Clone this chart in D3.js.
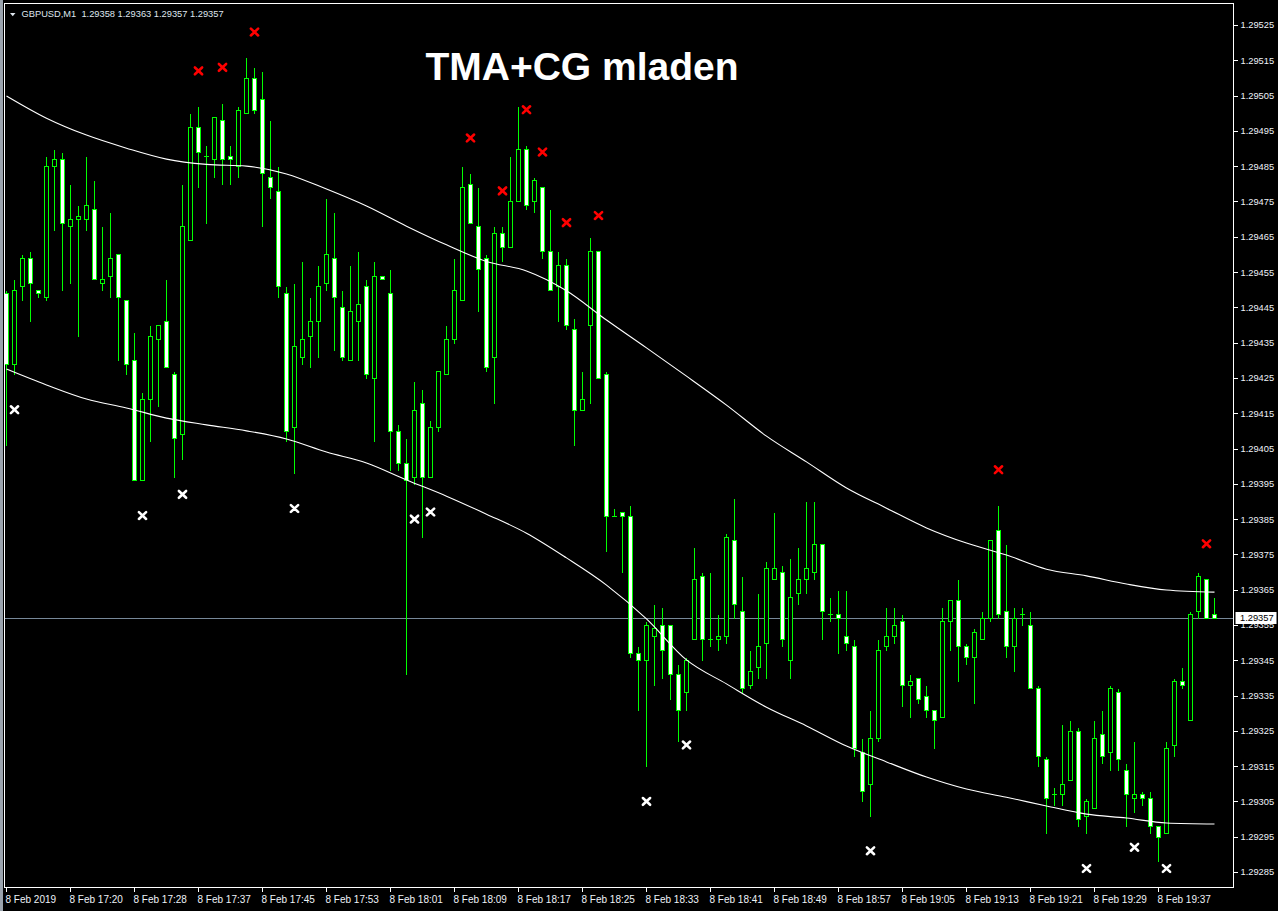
<!DOCTYPE html>
<html><head><meta charset="utf-8">
<script src="https://cdn.jsdelivr.net/npm/d3@7/dist/d3.min.js"></script>
<style>
html,body{margin:0;padding:0;background:#000;overflow:hidden;}
svg{display:block;}
</style></head><body>
<svg id="chart" width="1278" height="911"></svg>
<script>
const symbol = "GBPUSD,M1";
const lastQuote = ["1.29358", "1.29363", "1.29357", "1.29357"];
const title = "TMA+CG mladen";
const currentPrice = 1.29357;

const timeLabelIndex = [0, 8, 16, 24, 32, 40, 48, 56, 64, 72, 80, 88, 96, 104, 112, 120, 128, 136, 144];
const timeLabels = ["8 Feb 2019", "8 Feb 17:20", "8 Feb 17:28", "8 Feb 17:37", "8 Feb 17:45", "8 Feb 17:53",
  "8 Feb 18:01", "8 Feb 18:09", "8 Feb 18:17", "8 Feb 18:25", "8 Feb 18:33", "8 Feb 18:41", "8 Feb 18:49",
  "8 Feb 18:57", "8 Feb 19:05", "8 Feb 19:13", "8 Feb 19:21", "8 Feb 19:29", "8 Feb 19:37"];

const priceTicks = [1.29285, 1.29295, 1.29305, 1.29315, 1.29325, 1.29335, 1.29345, 1.29355, 1.29365, 1.29375,
  1.29385, 1.29395, 1.29405, 1.29415, 1.29425, 1.29435, 1.29445, 1.29455, 1.29465, 1.29475, 1.29485,
  1.29495, 1.29505, 1.29515, 1.29525];

const open = [
1.29449,1.29429,1.29451,1.29459,1.29450,1.29448,1.29485,1.29487,1.29468,1.29470,
1.29470,1.29473,1.29452,1.29454,1.29460,1.29447,1.29430,1.29396,1.29419,1.29436,
1.29441,1.29426,1.29409,1.29464,1.29496,1.29488,1.29487,1.29498,1.29488,1.29485,
1.29500,1.29510,1.29504,1.29482,1.29478,1.29449,1.29411,1.29431,1.29437,1.29441,
1.29452,1.29459,1.29445,1.29430,1.29441,1.29451,1.29425,1.29454,1.29449,1.29410,
1.29401,1.29397,1.29418,1.29397,1.29411,1.29426,1.29436,1.29447,1.29480,1.29468,
1.29459,1.29431,1.29466,1.29462,1.29475,1.29490,1.29475,1.29479,1.29461,1.29451,
1.29457,1.29439,1.29416,1.29440,1.29461,1.29426,1.29386,1.29387,1.29386,1.29347,
1.29345,1.29352,1.29355,1.29355,1.29341,1.29336,1.29351,1.29369,1.29351,1.29351,
1.29352,1.29379,1.29359,1.29338,1.29343,1.29350,1.29368,1.29370,1.29345,1.29364,
1.29368,1.29370,1.29378,1.29358,1.29358,1.29352,1.29349,1.29319,1.29310,1.29323,
1.29349,1.29352,1.29356,1.29338,1.29340,1.29335,1.29331,1.29329,1.29356,1.29362,
1.29349,1.29346,1.29351,1.29357,1.29382,1.29359,1.29349,1.29358,1.29355,1.29337,
1.29317,1.29307,1.29307,1.29311,1.29325,1.29301,1.29303,1.29324,1.29319,1.29336,
1.29314,1.29306,1.29307,1.29306,1.29298,1.29296,1.29321,1.29339,1.29328,1.29359,
1.29368,1.29358];

const high = [
1.29450,1.29453,1.29460,1.29461,1.29450,1.29488,1.29490,1.29489,1.29480,1.29474,
1.29488,1.29481,1.29468,1.29472,1.29460,1.29447,1.29438,1.29421,1.29440,1.29440,
1.29453,1.29427,1.29480,1.29500,1.29502,1.29491,1.29499,1.29503,1.29491,1.29502,
1.29516,1.29513,1.29512,1.29498,1.29485,1.29451,1.29452,1.29458,1.29448,1.29457,
1.29476,1.29472,1.29450,1.29457,1.29461,1.29453,1.29458,1.29454,1.29456,1.29412,
1.29408,1.29424,1.29422,1.29413,1.29427,1.29440,1.29459,1.29485,1.29483,1.29479,
1.29460,1.29468,1.29468,1.29488,1.29502,1.29491,1.29482,1.29479,1.29473,1.29461,
1.29459,1.29442,1.29427,1.29465,1.29461,1.29427,1.29388,1.29387,1.29389,1.29349,
1.29356,1.29361,1.29360,1.29355,1.29344,1.29346,1.29377,1.29370,1.29370,1.29358,
1.29381,1.29391,1.29369,1.29348,1.29364,1.29373,1.29387,1.29372,1.29374,1.29377,
1.29390,1.29390,1.29378,1.29363,1.29365,1.29365,1.29351,1.29323,1.29331,1.29351,
1.29360,1.29360,1.29358,1.29341,1.29340,1.29338,1.29331,1.29360,1.29362,1.29368,
1.29350,1.29354,1.29359,1.29379,1.29389,1.29378,1.29360,1.29360,1.29359,1.29338,
1.29318,1.29309,1.29327,1.29328,1.29326,1.29306,1.29328,1.29331,1.29338,1.29337,
1.29316,1.29322,1.29308,1.29308,1.29298,1.29322,1.29340,1.29343,1.29359,1.29370,
1.29368,1.29363];

const low = [
1.29406,1.29426,1.29447,1.29441,1.29448,1.29447,1.29467,1.29450,1.29452,1.29437,
1.29467,1.29453,1.29450,1.29448,1.29430,1.29426,1.29396,1.29396,1.29407,1.29417,
1.29428,1.29397,1.29402,1.29464,1.29479,1.29469,1.29482,1.29480,1.29480,1.29482,
1.29500,1.29500,1.29468,1.29476,1.29448,1.29407,1.29398,1.29429,1.29428,1.29431,
1.29450,1.29433,1.29430,1.29430,1.29430,1.29425,1.29407,1.29453,1.29399,1.29399,
1.29341,1.29395,1.29380,1.29397,1.29410,1.29426,1.29435,1.29447,1.29469,1.29444,
1.29427,1.29418,1.29458,1.29462,1.29475,1.29473,1.29472,1.29459,1.29450,1.29441,
1.29439,1.29406,1.29416,1.29418,1.29425,1.29376,1.29386,1.29370,1.29346,1.29331,
1.29315,1.29338,1.29340,1.29334,1.29322,1.29331,1.29351,1.29345,1.29349,1.29348,
1.29350,1.29357,1.29336,1.29337,1.29340,1.29340,1.29368,1.29349,1.29340,1.29361,
1.29364,1.29368,1.29351,1.29356,1.29347,1.29348,1.29318,1.29305,1.29301,1.29322,
1.29348,1.29350,1.29332,1.29329,1.29333,1.29329,1.29320,1.29329,1.29348,1.29339,
1.29344,1.29333,1.29351,1.29356,1.29357,1.29346,1.29342,1.29355,1.29337,1.29315,
1.29296,1.29304,1.29304,1.29311,1.29298,1.29296,1.29303,1.29316,1.29314,1.29314,
1.29298,1.29302,1.29304,1.29296,1.29288,1.29296,1.29318,1.29337,1.29328,1.29357,
1.29357,1.29357];

const close = [
1.29429,1.29450,1.29459,1.29452,1.29449,1.29485,1.29487,1.29469,1.29470,1.29471,
1.29474,1.29453,1.29453,1.29459,1.29448,1.29429,1.29396,1.29419,1.29437,1.29440,
1.29428,1.29408,1.29468,1.29496,1.29489,1.29488,1.29499,1.29487,1.29487,1.29501,
1.29510,1.29501,1.29483,1.29479,1.29451,1.29410,1.29434,1.29436,1.29441,1.29451,
1.29460,1.29448,1.29431,1.29444,1.29446,1.29426,1.29454,1.29453,1.29410,1.29401,
1.29396,1.29416,1.29397,1.29411,1.29427,1.29436,1.29450,1.29479,1.29469,1.29456,
1.29428,1.29466,1.29462,1.29475,1.29490,1.29474,1.29481,1.29461,1.29450,1.29457,
1.29440,1.29416,1.29419,1.29461,1.29425,1.29386,1.29386,1.29386,1.29347,1.29345,
1.29355,1.29354,1.29348,1.29341,1.29331,1.29345,1.29368,1.29351,1.29351,1.29352,
1.29380,1.29361,1.29337,1.29342,1.29349,1.29371,1.29371,1.29351,1.29363,1.29368,
1.29371,1.29378,1.29359,1.29358,1.29357,1.29350,1.29320,1.29308,1.29323,1.29348,
1.29352,1.29355,1.29338,1.29339,1.29334,1.29331,1.29328,1.29356,1.29362,1.29349,
1.29346,1.29353,1.29357,1.29379,1.29358,1.29349,1.29357,1.29358,1.29337,1.29318,
1.29306,1.29307,1.29310,1.29325,1.29300,1.29305,1.29323,1.29318,1.29337,1.29317,
1.29307,1.29307,1.29306,1.29298,1.29295,1.29320,1.29339,1.29338,1.29358,1.29369,
1.29357,1.29357];

// TMA+CG band values read at selected bars
const bandIndex = [0, 5, 10, 15, 20, 25, 30, 35, 40, 45, 50, 55, 60, 65, 70, 75, 80, 85, 90, 95,
  100, 105, 110, 115, 120, 125, 130, 135, 140, 145, 151];
const upperBand = [1.295049, 1.294986, 1.294938, 1.294901, 1.294870, 1.294855, 1.294850, 1.294828, 1.294785,
  1.294737, 1.294680, 1.294627, 1.294580, 1.294553, 1.294497, 1.294414, 1.294335, 1.294255, 1.294173,
  1.294085, 1.294012, 1.293938, 1.293881, 1.293825, 1.293782, 1.293748, 1.293708, 1.293689, 1.293666,
  1.293649, 1.293643];
const lowerBand = [1.294275, 1.294230, 1.294190, 1.294165, 1.294136, 1.294117, 1.294100, 1.294077, 1.294040,
  1.294009, 1.293961, 1.293915, 1.293864, 1.293810, 1.293740, 1.293663, 1.293567, 1.293451, 1.293383,
  1.293317, 1.293264, 1.293207, 1.293162, 1.293119, 1.293085, 1.293062, 1.293037, 1.293014, 1.293003,
  1.292989, 1.292986];

const sellSignals = [24, 27, 31, 58, 62, 65, 67, 70, 74, 124, 150];
const buySignals = [1, 17, 22, 36, 51, 53, 80, 85, 108, 135, 141, 145];
const signalOffset = 0.0001;

const W = 1278, H = 911;
const plot = {left: 4.5, top: 3.5, right: 1233.5, bottom: 887.5};

const svg = d3.select("#chart");
svg.append("rect").attr("width", W).attr("height", H).attr("fill", "#000");
// window edge
svg.append("rect").attr("x", 0).attr("y", 0).attr("width", 3).attr("height", H).attr("fill", "#9aa3ad");

const x = d3.scaleLinear().domain([0, 151]).range([6.5, 1214.5]);
const y = d3.scaleLinear().domain([1.29285, 1.29525]).range([872, 25]);
const py = p => Math.round(y(p)) + 0.5;

svg.append("defs").append("clipPath").attr("id", "plotclip")
  .append("rect").attr("x", plot.left + 0.5).attr("y", plot.top + 0.5)
  .attr("width", plot.right - plot.left - 1).attr("height", plot.bottom - plot.top - 1);

const g = svg.append("g").attr("clip-path", "url(#plotclip)");

// current price line
g.append("line").attr("x1", plot.left).attr("x2", plot.right)
  .attr("y1", py(currentPrice)).attr("y2", py(currentPrice))
  .attr("stroke", "#778899").attr("stroke-width", 1).attr("shape-rendering", "crispEdges");

const bars = d3.range(open.length).map(i => ({i, o: open[i], h: high[i], l: low[i], c: close[i]}));
const green = "#00ff00";

const cg = g.append("g").attr("shape-rendering", "crispEdges");
// wicks
cg.selectAll("line.wick").data(bars).join("line").attr("class", "wick")
  .attr("x1", d => x(d.i)).attr("x2", d => x(d.i))
  .attr("y1", d => py(d.h)).attr("y2", d => py(d.l) + 0.5)
  .attr("stroke", green).attr("stroke-width", 1);
// bodies
cg.selectAll("rect.body").data(bars.filter(d => d.o !== d.c)).join("rect").attr("class", "body")
  .attr("x", d => x(d.i) - 2).attr("width", 4)
  .attr("y", d => py(Math.max(d.o, d.c)))
  .attr("height", d => Math.max(1, py(Math.min(d.o, d.c)) - py(Math.max(d.o, d.c))))
  .attr("fill", d => d.c < d.o ? "#ffffff" : "#000000")
  .attr("stroke", green).attr("stroke-width", 1);
// doji
cg.selectAll("line.doji").data(bars.filter(d => d.o === d.c)).join("line").attr("class", "doji")
  .attr("x1", d => x(d.i) - 2.5).attr("x2", d => x(d.i) + 2.5)
  .attr("y1", d => py(d.o)).attr("y2", d => py(d.o))
  .attr("stroke", green).attr("stroke-width", 1);

// bands
const bandLine = arr => d3.line().x((d, k) => x(bandIndex[k])).y(d => y(d)).curve(d3.curveMonotoneX)(arr);
g.append("path").attr("d", bandLine(upperBand)).attr("fill", "none").attr("stroke", "#ffffff").attr("stroke-width", 1.1);
g.append("path").attr("d", bandLine(lowerBand)).attr("fill", "none").attr("stroke", "#ffffff").attr("stroke-width", 1.1);

// signals
const cross = "M-3.6,-3.4L3.6,3.4M3.6,-3.4L-3.6,3.4";
g.selectAll("path.sell").data(sellSignals).join("path").attr("class", "sell")
  .attr("transform", i => `translate(${x(i)},${y(high[i] + signalOffset)})`)
  .attr("d", cross).attr("stroke", "#ff0000").attr("stroke-width", 2.6).attr("stroke-linecap", "round").attr("fill", "none");
g.selectAll("path.buy").data(buySignals).join("path").attr("class", "buy")
  .attr("transform", i => `translate(${x(i)},${y(low[i] - signalOffset)})`)
  .attr("d", cross).attr("stroke", "#ffffff").attr("stroke-width", 2.6).attr("stroke-linecap", "round").attr("fill", "none");

// frame
svg.append("rect").attr("x", plot.left).attr("y", plot.top)
  .attr("width", plot.right - plot.left).attr("height", plot.bottom - plot.top)
  .attr("fill", "none").attr("stroke", "#ffffff").attr("stroke-width", 1).attr("shape-rendering", "crispEdges");

const axisFont = "'Liberation Sans', Arial, sans-serif";
// price axis
const ya = svg.append("g").attr("transform", `translate(${plot.right},0)`)
  .call(d3.axisRight(y).tickValues(priceTicks).tickSize(4).tickPadding(3).tickFormat(d3.format(".5f")));
ya.select(".domain").remove();
ya.selectAll(".tick line").attr("stroke", "#ffffff").attr("shape-rendering", "crispEdges");
ya.selectAll(".tick text").attr("fill", "#eef2f8").attr("font-family", axisFont).attr("font-size", 9.3);

// time axis
const xa = svg.append("g").attr("transform", `translate(0,${plot.bottom})`)
  .call(d3.axisBottom(x).tickValues(timeLabelIndex).tickSize(4).tickPadding(4)
    .tickFormat((d, k) => timeLabels[k]));
xa.select(".domain").remove();
xa.selectAll(".tick line").attr("stroke", "#ffffff").attr("shape-rendering", "crispEdges").attr("transform", "translate(-1,0)");
xa.selectAll(".tick text").attr("fill", "#eef2f8").attr("font-family", axisFont).attr("font-size", 10)
  .attr("text-anchor", "start").attr("dx", -1.5);

// current price label
const cp = svg.append("g").attr("transform", `translate(1235,${Math.round(y(currentPrice))})`);
cp.append("rect").attr("x", 0.5).attr("y", -6).attr("width", 41).attr("height", 12).attr("fill", "#ffffff");
cp.append("text").attr("x", 5).attr("y", 0).attr("dy", "0.34em").attr("fill", "#000")
  .attr("font-family", axisFont).attr("font-size", 9.3).text(d3.format(".5f")(currentPrice));

// header
svg.append("path").attr("d", "M10,13L15.5,13L12.75,16.2Z").attr("fill", "#dfe6ee");
svg.append("text").attr("x", 21.5).attr("y", 17.3).attr("fill", "#dfe6ee")
  .attr("font-family", axisFont).attr("font-size", 9.3).attr("xml:space", "preserve")
  .text(symbol + "  " + lastQuote.join(" "));

// title
svg.append("text").attr("x", 582).attr("y", 80).attr("text-anchor", "middle")
  .attr("fill", "#ffffff").attr("font-family", "'Liberation Sans', Arial, sans-serif")
  .attr("font-weight", "bold").attr("font-size", 39).text(title);
</script>
</body></html>
